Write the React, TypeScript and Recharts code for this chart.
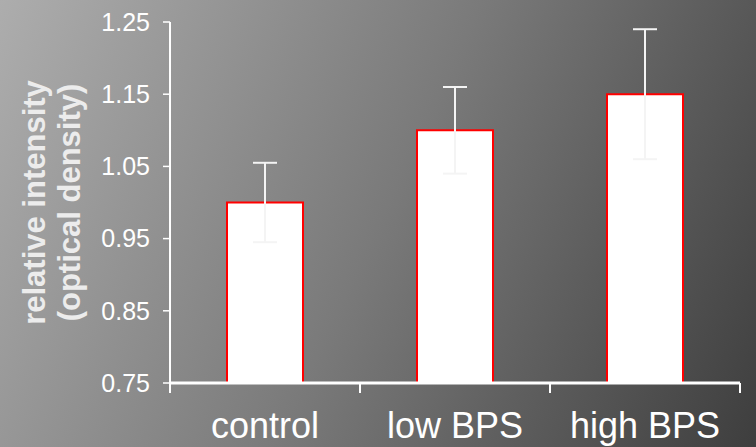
import { BarChart, Bar, XAxis, YAxis, ErrorBar } from 'recharts';

const groups = ['control', 'low BPS', 'high BPS'];
const intensity = [1.0, 1.1, 1.15];
const spread = [0.055, 0.06, 0.09];
const yTicks = [0.75, 0.85, 0.95, 1.05, 1.15, 1.25];

const data = groups.map((g, i) => ({ name: g, value: intensity[i], err: spread[i] }));

const FONT = '"Liberation Sans", Arial, sans-serif';

function GroupTick(props: any) {
  const { x, y, payload, index, visibleTicksCount } = props;
  const half = payload?.offset ?? 95;
  const last = index === (visibleTicksCount ?? groups.length) - 1;
  return (
    <g>
      <line x1={x - half} y1={y - 8} x2={x - half} y2={y + 2} stroke="#fff" strokeWidth={2} />
      {last && <line x1={x + half} y1={y - 8} x2={x + half} y2={y + 2} stroke="#fff" strokeWidth={2} />}
      <text x={x} y={y + 47} textAnchor="middle" fill="#fff" fontSize={36} fontFamily={FONT}>
        {payload.value}
      </text>
    </g>
  );
}

function AxisTitle(props: any) {
  const vb = props.viewBox || { x: 0, y: 0, width: 0, height: 0 };
  const cy = vb.y + vb.height / 2 + 0;
  const cx = 45;
  return (
    <g fontFamily={FONT} fontWeight="bold" fontSize={31} fill="#ececec">
      <text x={cx} y={cy} textAnchor="middle" transform={`rotate(-90 ${cx} ${cy})`}>
        <tspan x={cx} dy={0}>relative intensity</tspan>
        <tspan x={cx} dy={35}>(optical density)</tspan>
      </text>
    </g>
  );
}

export default function App() {
  return (
    <div
      style={{
        position: 'absolute',
        left: 0,
        top: 0,
        width: 756,
        height: 447,
        background: 'linear-gradient(115deg, #adadad 0%, #7a7a7a 50%, #3e3e3e 100%)',
        overflow: 'hidden',
      }}
    >
      <BarChart
        width={756}
        height={447}
        data={data}
        margin={{ top: 22, right: 16, bottom: 4, left: 10 }}
        barCategoryGap="30%"
      >
        <XAxis
          dataKey="name"
          axisLine={{ stroke: '#fff', strokeWidth: 3 }}
          tickLine={false}
          tick={<GroupTick />}
          height={60}
          interval={0}
        />
        <YAxis
          domain={[0.75, 1.25]}
          ticks={yTicks}
          allowDataOverflow
          width={160}
          axisLine={{ stroke: '#fff', strokeWidth: 2 }}
          tickLine={{ stroke: '#fff', strokeWidth: 1.5 }}
          tickSize={7}
          tickMargin={13}
          tick={{ fill: '#fff', fontSize: 25, fontFamily: FONT }}
          tickFormatter={(v: number) => v.toFixed(2)}
          label={{ content: <AxisTitle /> }}
        />
        <Bar dataKey="value" fill="#fff" stroke="#ff0000" strokeWidth={2} isAnimationActive={false}>
          <ErrorBar dataKey="err" stroke="#f4f4f4" strokeWidth={2} width={12} />
        </Bar>
      </BarChart>
    </div>
  );
}
